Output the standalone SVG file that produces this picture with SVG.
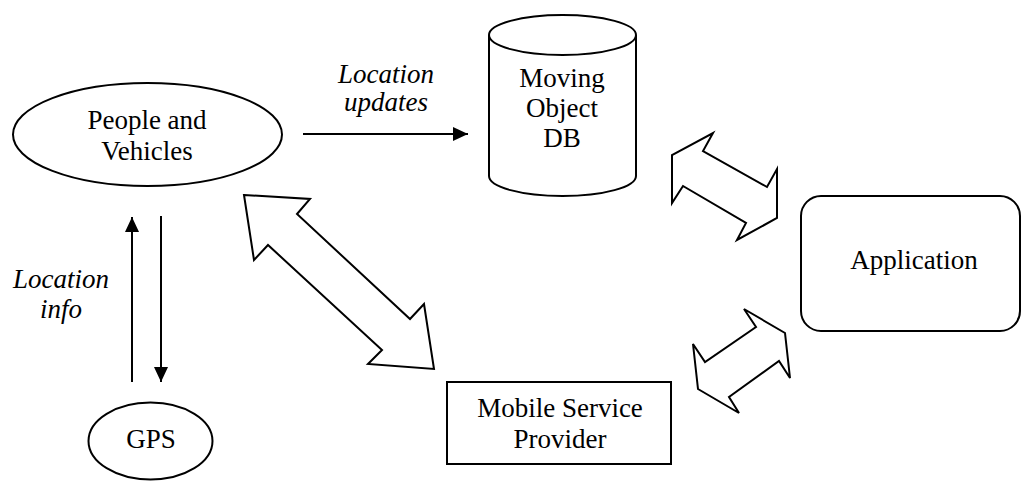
<svg xmlns="http://www.w3.org/2000/svg" width="1021" height="481" viewBox="0 0 1021 481">
  <style>
    .shape { fill: #ffffff; stroke: #000000; stroke-width: 2; }
    .line { fill: none; stroke: #000000; stroke-width: 2; }
    .label { font-family: "Liberation Serif", "Times New Roman", serif; font-size: 27px; fill: #000000; text-anchor: middle; }
    .note { font-style: italic; }
  </style>
  <defs>
    <marker id="head" markerUnits="userSpaceOnUse" markerWidth="16" markerHeight="15" refX="15" refY="7" orient="auto">
      <path d="M0,0 L15,7 L0,14 Z" fill="#000000"/>
    </marker>
  </defs>
  <rect width="1021" height="481" fill="#ffffff"/>

  <!-- connectors -->
  <g id="connectors">
    <line class="line" x1="303" y1="134" x2="468" y2="134" marker-end="url(#head)"/>
    <line class="line" x1="132" y1="382" x2="132" y2="217" marker-end="url(#head)"/>
    <line class="line" x1="161" y1="216" x2="161" y2="382" marker-end="url(#head)"/>
    <!-- double block arrows -->
    <polygon class="shape" points="244,195 310,199 297,214 410,319 424,304 434,369 368,364 382,350 268,245 254,260"/>
    <polygon class="shape" points="713,133 703,151 767,187 777,169 777,218 737,240 746,223 683,186 672,203 672,155"/>
    <polygon class="shape" points="744,309 756,327 705,362 693,344 698,389 739,413 729,397 779,361 790,378 785,333"/>
    <text class="label note" x="386" y="83">Location</text>
    <text class="label note" x="386" y="111">updates</text>
    <text class="label note" x="61" y="288">Location</text>
    <text class="label note" x="61" y="318">info</text>
  </g>

  <g id="people">
    <ellipse class="shape" cx="147.5" cy="134.5" rx="134.5" ry="51.5"/>
    <text class="label" x="147" y="129">People and</text>
    <text class="label" x="147" y="160">Vehicles</text>
  </g>

  <g id="db">
    <path class="shape" d="M489,35 L489,176 A73.5,20 0 0 0 636,176 L636,35"/>
    <ellipse class="shape" cx="562.5" cy="35" rx="73.5" ry="20"/>
    <text class="label" x="562" y="87">Moving</text>
    <text class="label" x="562" y="117">Object</text>
    <text class="label" x="562" y="147">DB</text>
  </g>

  <g id="application">
    <rect class="shape" x="801" y="196" width="219" height="135" rx="20" ry="20"/>
    <text class="label" x="914" y="269">Application</text>
  </g>

  <g id="provider">
    <rect class="shape" x="447" y="382" width="224" height="82"/>
    <text class="label" x="560" y="417">Mobile Service</text>
    <text class="label" x="560" y="448">Provider</text>
  </g>

  <g id="gps">
    <ellipse class="shape" cx="150.5" cy="441" rx="62" ry="38.5"/>
    <text class="label" x="151" y="448">GPS</text>
  </g>
</svg>
